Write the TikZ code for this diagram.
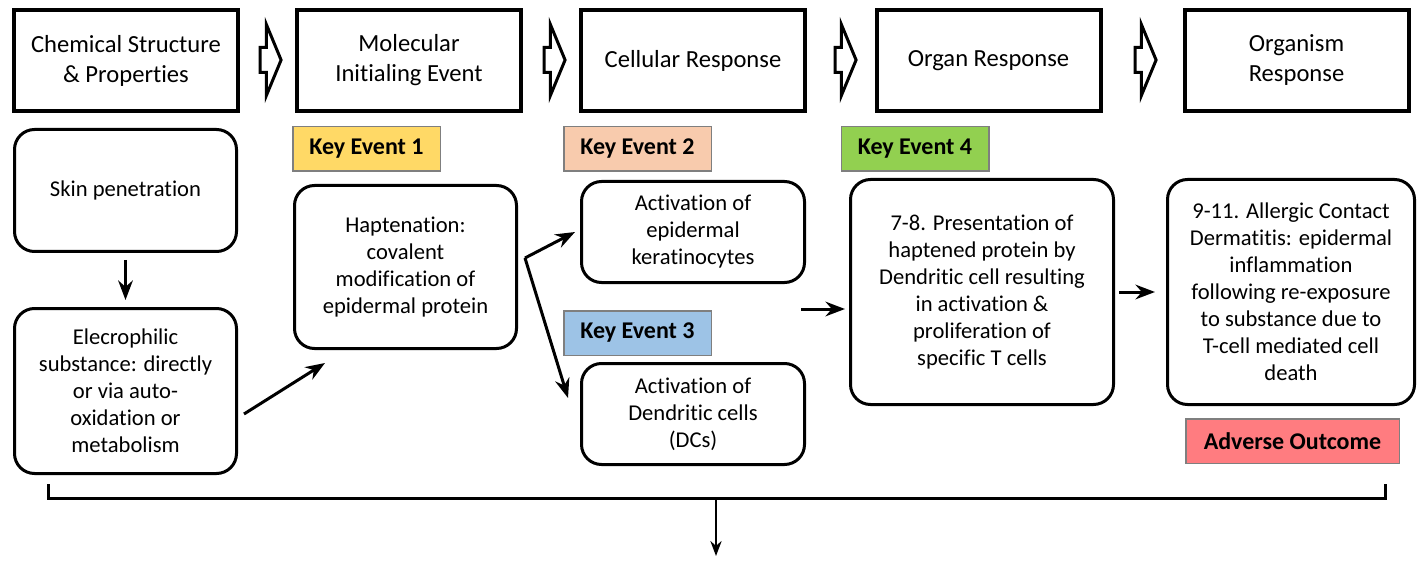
\documentclass[tikz,border=0pt]{standalone}
\usepackage{fontspec}
\setmainfont[Ligatures=NoCommon]{Carlito}
\usetikzlibrary{shapes.arrows,arrows.meta,calc}

\definecolor{keyone}{HTML}{FFD966}
\definecolor{keytwo}{HTML}{F8CBAD}
\definecolor{keythree}{HTML}{9DC3E6}
\definecolor{keyfour}{HTML}{92D050}
\definecolor{adverse}{HTML}{FF7C80}
\definecolor{tagline}{HTML}{7F7F7F}

\begin{document}
\begin{tikzpicture}[x=0.5pt, y=-0.5pt, >=Stealth,
	stage/.style={draw, line width=2pt, minimum width=112pt, minimum height=50.5pt,
		align=center, inner sep=0pt, font=\fontsize{12.3}{15}\selectfont},
	blockarrow/.style={single arrow, draw, fill=white, line width=1.5pt,
		minimum height=10.5pt, inner xsep=0pt, inner ysep=5.5pt,
		single arrow head extend=11.5pt, single arrow tip angle=135},
	event/.style={draw, line width=1.5pt, rounded corners=10pt, align=center,
		inner sep=2pt, font=\fontsize{11.3}{13.5}\selectfont},
	tag/.style={draw=tagline, line width=0.75pt, minimum width=73.75pt,
		minimum height=22.25pt, inner sep=0pt, font=\fontsize{12}{14}\selectfont\bfseries},
	link/.style={->, line width=1.5pt}]

	\useasboundingbox (0,0) rectangle (1418,561);

	% stages
	\foreach \x/\t [count=\i] in {126/{Chemical Structure\\\& Properties},
		409/{Molecular\\Initialing Event}, 693/{Cellular Response},
		988.5/{Organ Response}, 1296.5/{Organism\\Response}}
		\node [stage] (stage-\i) at (\x,60.5) {\t};

	% block arrows between stages
	\foreach \x [count=\i] in {268,552,843,1143}
		\node [blockarrow] (step-\i) at (\x,60) {};

	% key events
	\node [tag, fill=keyone] (key-1) at (366.5,149) {Key Event 1};
	\node [tag, fill=keytwo] (key-2) at (637.5,149) {Key Event 2};
	\node [tag, fill=keythree] (key-3) at (637.5,333) {Key Event 3};
	\node [tag, fill=keyfour] (key-4) at (915,149) {Key Event 4};
	\node [tag, fill=adverse, minimum width=106.75pt] (outcome) at (1292.5,441) {Adverse Outcome};

	% events
	\node [event, minimum width=111pt, minimum height=61pt] (skin) at (125.5,190.5) {Skin penetration};
	\node [event, minimum width=111pt, minimum height=82.5pt] (elec) at (125.5,391)
		{Elecrophilic\\substance: directly\\or via auto-\\oxidation or\\metabolism};
	\node [event, minimum width=111pt, minimum height=81.5pt] (hapten) at (405.5,267)
		{Haptenation:\\covalent\\modification of\\epidermal protein};
	\node [event, minimum width=111.5pt, minimum height=50.5pt] (kera) at (693,232)
		{Activation of\\epidermal\\keratinocytes};
	\node [event, minimum width=111.5pt, minimum height=50.5pt] (dendr) at (693,414)
		{Activation of\\Dendritic cells\\(DCs)};
	\node [event, minimum width=131.5pt, minimum height=112.5pt] (present) at (982,292)
		{7-8. Presentation of\\haptened protein by\\Dendritic cell resulting\\in activation \&\\proliferation of\\specific T cells};
	\node [event, minimum width=123.5pt, minimum height=112.5pt] (allergy) at (1291,292)
		{9-11. Allergic Contact\\Dermatitis: epidermal\\inflammation\\following re-exposure\\to substance due to\\T-cell mediated cell\\death};

	% arrows between events
	\draw [link, shorten <=3.5pt, shorten >=3.5pt] (skin) -- (elec);
	\draw [link] ($(elec.east)+(6,23)$) -- ($(hapten.south west)+(32,13)$);
	\coordinate (fork) at ($(hapten.east)+(7,-9)$);
	\draw [link] (fork) -- ($(kera.west)+(-5,0)$);
	\draw [link] (fork) -- ($(dendr.west)+(-12,-16)$);
	\coordinate (cells) at (801,309);
	\draw [link] (cells) -- ($(present.west)+(-4,17)$);
	\draw [link, shorten <=2pt, shorten >=5.5pt] (present) -- (allergy);

	% bracket
	\coordinate (brace-l) at (48,484);
	\coordinate (brace-r) at (1385,484);
	\coordinate (brace-m) at (716,498);
	\coordinate (below) at (716,556);
	\draw [line width=1.5pt] (brace-l) |- (brace-r |- brace-m) -- (brace-r);
	\draw [->, line width=1pt] (brace-m) -- (below);

\end{tikzpicture}
\end{document}
